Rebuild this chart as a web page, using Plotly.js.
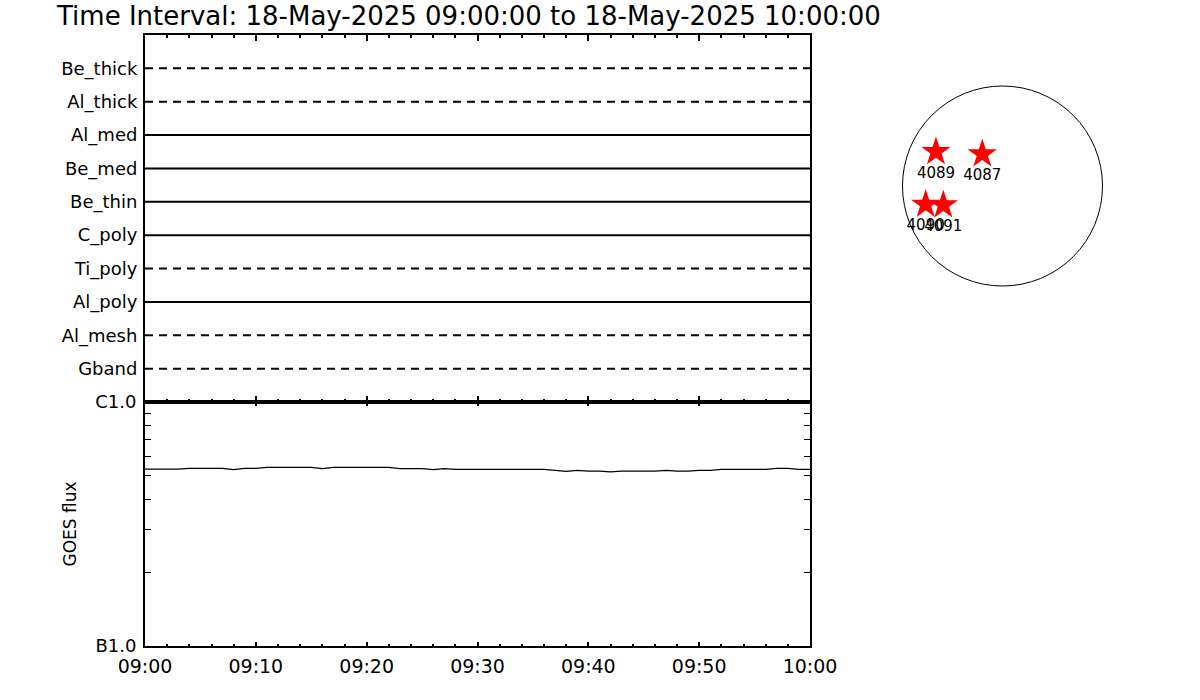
<!DOCTYPE html>
<html><head><meta charset="utf-8">
<script src="https://cdn.plot.ly/plotly-3.0.1.min.js"></script>
<style>html,body{margin:0;padding:0;background:#fff}#chart{width:1200px;height:700px}</style>
</head><body><div id="chart"></div>
<script>
// ---- data ----
const filters = ['Be_thick','Al_thick','Al_med','Be_med','Be_thin','C_poly','Ti_poly','Al_poly','Al_mesh','Gband'];
const filterObserved = [0,0,1,1,1,1,0,1,0,0];
const timeStart = '2025-05-18 09:00:00';
const timeEnd = '2025-05-18 10:00:00';
const goesTimes = ['09:00','09:01','09:02','09:03','09:04','09:05','09:06','09:07','09:08','09:09',
  '09:10','09:11','09:12','09:13','09:14','09:15','09:16','09:17','09:18','09:19',
  '09:20','09:21','09:22','09:23','09:24','09:25','09:26','09:27','09:28','09:29',
  '09:30','09:31','09:32','09:33','09:34','09:35','09:36','09:37','09:38','09:39',
  '09:40','09:41','09:42','09:43','09:44','09:45','09:46','09:47','09:48','09:49',
  '09:50','09:51','09:52','09:53','09:54','09:55','09:56','09:57','09:58','09:59','10:00'];
const goesFlux = [5.31e-7,5.31e-7,5.31e-7,5.31e-7,5.35e-7,5.35e-7,5.35e-7,5.35e-7,5.28e-7,5.35e-7,
  5.35e-7,5.40e-7,5.40e-7,5.40e-7,5.40e-7,5.40e-7,5.33e-7,5.40e-7,5.40e-7,5.40e-7,
  5.40e-7,5.40e-7,5.40e-7,5.33e-7,5.33e-7,5.33e-7,5.28e-7,5.33e-7,5.30e-7,5.30e-7,
  5.30e-7,5.30e-7,5.30e-7,5.30e-7,5.30e-7,5.30e-7,5.30e-7,5.25e-7,5.20e-7,5.25e-7,
  5.21e-7,5.21e-7,5.17e-7,5.21e-7,5.21e-7,5.21e-7,5.21e-7,5.25e-7,5.21e-7,5.21e-7,
  5.25e-7,5.25e-7,5.30e-7,5.30e-7,5.30e-7,5.30e-7,5.30e-7,5.35e-7,5.35e-7,5.30e-7,5.30e-7];
const goesTickVals = [1e-7, 1e-6];
const goesTickText = ['B1.0', 'C1.0'];
const goesMinorVals = [2e-7,3e-7,4e-7,5e-7,6e-7,7e-7,8e-7,9e-7];
const arNumbers = ['4089','4087','4090','4091'];
const arX = [-632,-192,-730,-562];   // arcsec
const arY = [325,303,-175,-181];     // arcsec
const sunRadius = 950;               // arcsec

// ---- traces ----
const traces = [];
filters.forEach((f, i) => {
  traces.push({
    x: [timeStart, timeEnd], y: [f, f], xaxis: 'x', yaxis: 'y',
    type: 'scatter', mode: 'lines', hoverinfo: 'skip', showlegend: false,
    line: {color: '#000', width: 2, dash: filterObserved[i] ? 'solid' : '8px,6px'}
  });
});
traces.push({
  x: goesTimes.map(t => '2025-05-18 ' + t + ':00'), y: goesFlux,
  xaxis: 'x2', yaxis: 'y2', type: 'scatter', mode: 'lines', showlegend: false,
  line: {color: '#000', width: 1.3}
});
traces.push({
  x: arX, y: arY, text: arNumbers, xaxis: 'x3', yaxis: 'y3',
  type: 'scatter', mode: 'markers+text', textposition: 'bottom center', showlegend: false,
  marker: {symbol: 'star', size: 22, color: '#ff0000', line: {width: 0}},
  textfont: {family: 'DejaVu Sans', size: 15, color: '#000'}
});

const W = 1200, H = 700;
const xd = [145 / W, 810 / W];
const fontFam = 'DejaVu Sans, sans-serif';
const layout = {
  width: W, height: H, margin: {l: 0, r: 0, t: 0, b: 0},
  paper_bgcolor: '#fff', plot_bgcolor: '#fff', showlegend: false,
  font: {family: fontFam, color: '#000', size: 18},
  title: {text: 'Time Interval: 18-May-2025 09:00:00 to 18-May-2025 10:00:00',
    x: 57 / W, xanchor: 'left', y: 1 - 16 / H, yanchor: 'middle',
    font: {family: fontFam, size: 26, color: '#000'}},
  xaxis: {domain: xd, anchor: 'y', type: 'date', range: [timeStart, timeEnd],
    showgrid: false, zeroline: false, showline: true, linewidth: 2, linecolor: '#000', mirror: 'ticks',
    ticks: 'inside', ticklen: 6, tickwidth: 2, tickcolor: '#000', dtick: 600000, tick0: timeStart,
    showticklabels: false,
    minor: {dtick: 120000, tick0: timeStart, ticks: 'inside', ticklen: 3, tickwidth: 2, tickcolor: '#000', showgrid: false}},
  yaxis: {domain: [1 - 402 / H, 1 - 35 / H], anchor: 'x', type: 'category',
    categoryorder: 'array', categoryarray: filters.slice().reverse(), range: [-1, 10],
    showgrid: false, zeroline: false, showline: true, linewidth: 2, linecolor: '#000', mirror: true,
    ticks: '', ticklabelstandoff: 2, tickfont: {size: 18}},
  xaxis2: {domain: xd, anchor: 'y2', type: 'date', range: [timeStart, timeEnd],
    showgrid: false, zeroline: false, showline: true, linewidth: 2, linecolor: '#000', mirror: 'ticks',
    ticks: 'inside', ticklen: 4, tickwidth: 2, tickcolor: '#000', dtick: 600000, tick0: timeStart,
    tickformat: '%H:%M', tickfont: {size: 19}, ticklabelstandoff: 2,
    minor: {dtick: 120000, tick0: timeStart, ticks: 'inside', ticklen: 2, tickwidth: 2, tickcolor: '#000', showgrid: false}},
  yaxis2: {domain: [1 - 646 / H, 1 - 402 / H], anchor: 'x2', type: 'log', range: [-7, -6],
    showgrid: false, zeroline: false, showline: true, linewidth: 2, linecolor: '#000', mirror: 'ticks',
    ticks: 'inside', ticklen: 6, tickwidth: 1, tickcolor: '#000',
    tickmode: 'array', tickvals: goesTickVals, ticktext: goesTickText, tickfont: {size: 18},
    ticklabelstandoff: 3,
    minor: {tickmode: 'array', tickvals: goesMinorVals, ticks: 'inside', ticklen: 6, tickwidth: 1, tickcolor: '#000', showgrid: false},
    title: {text: 'GOES flux', font: {size: 17}, standoff: 14}},
  xaxis3: {domain: [882.5 / W, 1122.5 / W], anchor: 'y3', range: [-1140, 1140], visible: false},
  yaxis3: {domain: [1 - 306 / H, 1 - 66 / H], anchor: 'x3', range: [-1140, 1140], visible: false},
  shapes: [{type: 'circle', xref: 'x3', yref: 'y3', x0: -sunRadius, x1: sunRadius, y0: -sunRadius, y1: sunRadius,
    line: {color: '#000', width: 1}, layer: 'below'}]
};
Plotly.newPlot('chart', traces, layout, {displayModeBar: false, staticPlot: true});
</script>
</body></html>
